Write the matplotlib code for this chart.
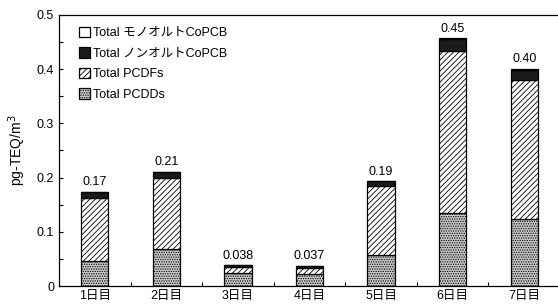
import matplotlib
matplotlib.use("Agg")
import matplotlib.pyplot as plt
import numpy as np

plt.rcParams['font.family'] = ['Liberation Sans', 'Noto Sans CJK JP', 'DejaVu Sans']
plt.rcParams['hatch.linewidth'] = 0.6

days = ['1日目', '2日目', '3日目', '4日目', '5日目', '6日目', '7日目']
pcdd = [0.046, 0.068, 0.024, 0.023, 0.057, 0.135, 0.124]
pcdf = [0.117, 0.132, 0.011, 0.011, 0.128, 0.299, 0.256]
nonortho = [0.010, 0.010, 0.003, 0.003, 0.008, 0.022, 0.019]
monoortho = [0.001, 0.001, 0.0005, 0.0005, 0.001, 0.002, 0.002]
totals = ['0.17', '0.21', '0.038', '0.037', '0.19', '0.45', '0.40']
yticks = [0, 0.1, 0.2, 0.3, 0.4, 0.5]
ytick_labels = ['0', '0.1', '0.2', '0.3', '0.4', '0.5']

fig = plt.figure(figsize=(5.58, 3.04), dpi=100)
ax = fig.add_axes([0.1057, 0.0592, 0.8979, 0.8915])

x = np.arange(len(days))
w = 0.38
b1 = np.array(pcdd)
b2 = b1 + np.array(pcdf)
b3 = b2 + np.array(nonortho)
top = b3 + np.array(monoortho)

h_dd = ax.bar(x, pcdd, w, color='#c8c8c8', edgecolor='black', hatch='.......', linewidth=0.9, label='Total PCDDs')
h_df = ax.bar(x, pcdf, w, bottom=b1, color='white', edgecolor='black', hatch='//////', linewidth=0.9, label='Total PCDFs')
h_no = ax.bar(x, nonortho, w, bottom=b2, color='#1a1a1a', edgecolor='black', linewidth=0.9, label='Total ノンオルトCoPCB')
h_mo = ax.bar(x, monoortho, w, bottom=b3, color='white', edgecolor='black', linewidth=0.9, label='Total モノオルトCoPCB')

for xi, t, lab in zip(x, top, totals):
    ax.text(xi, t + 0.006, lab, ha='center', va='bottom', fontsize=9)

ax.set_xlim(-0.5, 6.5)
ax.set_ylim(0, 0.5)
ax.set_yticks(yticks)
ax.set_yticklabels(ytick_labels, fontsize=9)
ax.set_yticks(np.arange(0.05, 0.5, 0.1), minor=True)
ax.tick_params(axis='y', which='both', direction='in', length=3, width=0.8)
ax.set_xticks(x)
ax.set_xticklabels(days, fontsize=9)
ax.tick_params(axis='x', which='major', length=0, pad=3)
ax.set_xticks(x[:-1] + 0.5, minor=True)
ax.tick_params(axis='x', which='minor', direction='in', length=3, width=0.8)
ax.spines['right'].set_visible(False)
for s in ['left', 'top', 'bottom']:
    ax.spines[s].set_linewidth(0.9)
ax.set_ylabel('pg-TEQ/m$^3$', fontsize=10, labelpad=6)

leg = ax.legend(handles=[h_mo, h_no, h_df, h_dd], loc='upper left', bbox_to_anchor=(0.025, 0.985),
                frameon=False, fontsize=9, handlelength=0.9, handleheight=0.9,
                handletextpad=0.2, labelspacing=0.65, borderaxespad=0.2)

fig.savefig('out.png', dpi=100)
